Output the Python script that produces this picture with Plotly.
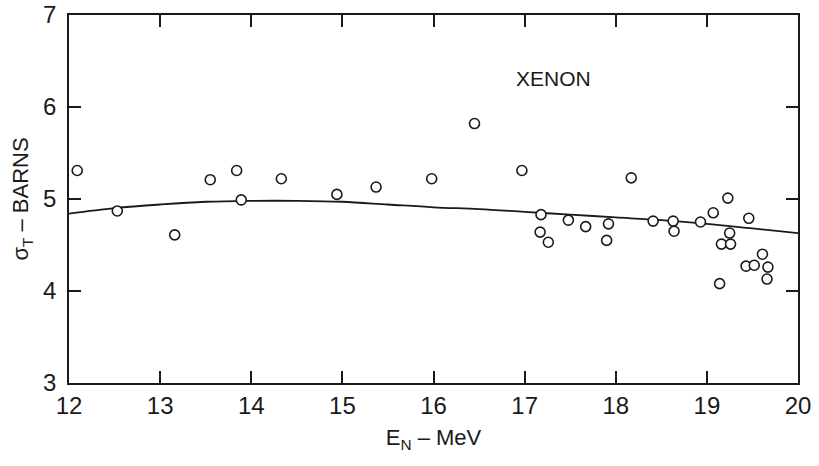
import plotly.graph_objects as go

# Measured data points (E_N in MeV, sigma_T in barns)
energy = [12.09, 12.53, 13.16, 13.55, 13.84, 13.89, 14.33, 14.94, 15.37, 15.98,
          16.45, 16.97, 17.18, 17.17, 17.26, 17.48, 17.67, 17.92, 17.90, 18.17,
          18.41, 18.63, 18.64, 18.93, 19.07, 19.23, 19.46, 19.25, 19.16, 19.26,
          19.14, 19.43, 19.52, 19.61, 19.67, 19.66]
sigma = [5.31, 4.87, 4.61, 5.21, 5.31, 4.99, 5.22, 5.05, 5.13, 5.22,
         5.82, 5.31, 4.83, 4.64, 4.53, 4.77, 4.70, 4.73, 4.55, 5.23,
         4.76, 4.76, 4.65, 4.75, 4.85, 5.01, 4.79, 4.63, 4.51, 4.51,
         4.08, 4.27, 4.28, 4.40, 4.26, 4.13]

# Smooth fitted curve
curve_x = [12, 12.5, 13, 13.5, 14, 14.5, 15, 15.5, 16, 16.5, 17, 17.5, 18, 18.5, 19, 19.5, 20]
curve_y = [4.84, 4.90, 4.94, 4.97, 4.98, 4.98, 4.97, 4.94, 4.91, 4.89, 4.86, 4.83, 4.80, 4.77, 4.73, 4.68, 4.63]

x_ticks = [12, 13, 14, 15, 16, 17, 18, 19, 20]
y_ticks = [3, 4, 5, 6, 7]

FONT = "Liberation Sans"
INK = "#1a1a1a"

fig = go.Figure()
fig.add_trace(go.Scatter(x=curve_x, y=curve_y, mode="lines",
                         line=dict(color=INK, width=1.8, shape="spline"),
                         showlegend=False, hoverinfo="skip"))
fig.add_trace(go.Scatter(x=energy, y=sigma, mode="markers",
                         marker=dict(symbol="circle", size=10, color="white",
                                     line=dict(color=INK, width=1.6)),
                         showlegend=False))

fig.add_annotation(text="XENON", x=0.664, y=0.865, xref="paper", yref="paper",
                   showarrow=False, font=dict(family=FONT, size=21, color=INK))

axis_common = dict(showgrid=False, zeroline=False, showline=True, linecolor=INK,
                   linewidth=1.8, mirror="ticks", ticks="inside", ticklen=12,
                   tickwidth=1.5, tickcolor=INK, automargin=False,
                   tickfont=dict(family=FONT, size=24, color=INK))

fig.update_xaxes(range=[12, 20], tickvals=x_ticks, ticktext=[str(v) for v in x_ticks],
                 title=dict(text="E<sub>N</sub> – MeV", font=dict(family=FONT, size=22, color=INK),
                            standoff=12),
                 **axis_common)
fig.update_yaxes(range=[3, 7], tickvals=y_ticks, ticktext=[str(v) for v in y_ticks],
                 ticklabelstandoff=6,
                 title=dict(text="σ<sub>T</sub> – BARNS", font=dict(family=FONT, size=22, color=INK),
                            standoff=8),
                 **axis_common)

fig.update_layout(width=819, height=466, margin=dict(l=69, r=21, t=15, b=83),
                  plot_bgcolor="white", paper_bgcolor="white")

fig.write_html("out.html")
